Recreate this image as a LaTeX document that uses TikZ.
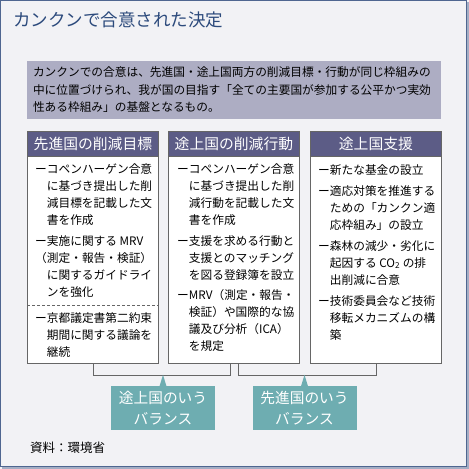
\documentclass[tikz,border=0pt]{standalone}
\usepackage{fontspec}
\setmainfont{Noto Sans CJK JP}
\usetikzlibrary{positioning,calc}
\definecolor{bgpanel}{HTML}{F2F2F5}
\definecolor{frameblue}{HTML}{4F6690}
\definecolor{frameshadow}{HTML}{A4AEC4}
\definecolor{titleblue}{HTML}{2C4A7C}
\definecolor{sumgray}{HTML}{ADADC3}
\definecolor{headblue}{HTML}{5C5C86}
\definecolor{boxgray}{HTML}{666666}
\definecolor{tealbox}{HTML}{6EADB1}
\newcommand\ind{\hspace*{11.7pt}}

\begin{document}
\begin{tikzpicture}[x=1pt,y=-1pt,
  colbox/.style={draw=boxgray,fill=white,line width=.8pt,minimum width=131pt,minimum height=232pt,inner sep=0pt,anchor=north west},
  colhead/.style={draw=boxgray,fill=headblue,text=white,line width=.8pt,minimum width=131pt,minimum height=25pt,inner sep=0pt,anchor=north west,font=\fontsize{14.8}{16}\selectfont},
  itemtext/.style={anchor=north west,inner sep=0pt,align=left,font=\fontsize{11.7}{17}\selectfont},
  bracket/.style={draw=boxgray,line width=.8pt},
  callout/.style={fill=tealbox,text=white,minimum width=104pt,minimum height=44pt,inner sep=0pt,align=center,font=\fontsize{14.7}{21}\selectfont}]
\path[use as bounding box] (0,0) rectangle (469,469);
\fill[bgpanel] (0,0) rectangle (469,469);
\fill[frameshadow] (466,2) rectangle (469,469);
\fill[frameshadow] (2,466) rectangle (469,469);
\draw[frameblue,line width=1pt] (0.5,0.5) rectangle (466,466);

% title and summary
\node[anchor=west,inner sep=0pt,text=titleblue,font=\fontsize{17.5}{20}\selectfont] (title) at (13,20) {カンクンで合意された決定};
\node[fill=sumgray,minimum width=414pt,minimum height=58pt,inner sep=0pt,anchor=north west] (summary) at (27,61) {};
\node[itemtext,line width=0pt,font=\fontsize{11.7}{17.5}\selectfont] (sumtext) at (33,67) {カンクンでの合意は、先進国・途上国両方の削減目標・行動が同じ枠組みの\\中に位置づけられ、我が国の目指す「全ての主要国が参加する公平かつ実効\\性ある枠組み」の基盤となるもの。};

% three columns
\node[colbox] (boxA) at (27,131) {};
\node[colbox] (boxB) at (168,131) {};
\node[colbox] (boxC) at (310,131) {};
\node[colhead] (headA) at (27,131) {先進国の削減目標};
\node[colhead] (headB) at (168,131) {途上国の削減行動};
\node[colhead] (headC) at (310,131) {途上国支援};

\node[itemtext] (a1) at (35,163) {ーコペンハーゲン合意\\\ind に基づき提出した削\\\ind 減目標を記載した文\\\ind 書を作成};
\node[itemtext] (a2) at (35,235) {ー実施に関する MRV\\（測定・報告・検証）\\\ind に関するガイドライ\\\ind ンを強化};
\draw[boxgray,line width=.8pt,dash pattern=on 3pt off 2pt] (boxA.west |- 0,305) -- (boxA.east |- 0,305);
\node[itemtext] (a3) at (35,312) {ー京都議定書第二約束\\\ind 期間に関する議論を\\\ind 継続};

\node[itemtext] (b1) at (177,163) {ーコペンハーゲン合意\\\ind に基づき提出した削\\\ind 減行動を記載した文\\\ind 書を作成};
\node[itemtext] (b2) at (177,235) {ー支援を求める行動と\\\ind 支援とのマッチング\\\ind を図る登録簿を設立};
\node[itemtext] (b3) at (177,289) {ーMRV（測定・報告・\\\ind 検証）や国際的な協\\\ind 議及び分析（ICA）\\\ind を規定};

\node[itemtext] (c1) at (318,164) {ー新たな基金の設立};
\node[itemtext] (c2) at (318,185) {ー適応対策を推進する\\\ind ための「カンクン適\\\ind 応枠組み」の設立};
\node[itemtext] (c3) at (318,240) {ー森林の減少・劣化に\\\ind 起因する CO\textsubscript{2} の排\\\ind 出削減に合意};
\node[itemtext] (c4) at (318,295) {ー技術委員会など技術\\\ind 移転メカニズムの構\\\ind 築};

% brackets
\coordinate (jA) at ($(boxB.south)+(-4,0)$);
\coordinate (jB) at ($(boxB.south)+(4,0)$);
\draw[bracket] (boxA.south) -- ++(0,12) -| (jA);
\draw[bracket] (jB) -- ++(0,12) -| (boxC.south);

% callouts
\node[callout] (calA) at (163,408) {途上国のいう\\バランス};
\node[callout] (calB) at (304.5,408) {先進国のいう\\バランス};
\fill[tealbox] ($(calA.north)+(-3.5,0.5)$) -- ($(calA.north)+(0,-11)$) -- ($(calA.north)+(3.5,0.5)$) -- cycle;
\fill[tealbox] ($(calB.north)+(-3.5,0.5)$) -- ($(calB.north)+(0,-11)$) -- ($(calB.north)+(3.5,0.5)$) -- cycle;

\node[anchor=west,inner sep=0pt,font=\fontsize{12.5}{14}\selectfont] (source) at (30,448) {資料：環境省};
\end{tikzpicture}
\end{document}
